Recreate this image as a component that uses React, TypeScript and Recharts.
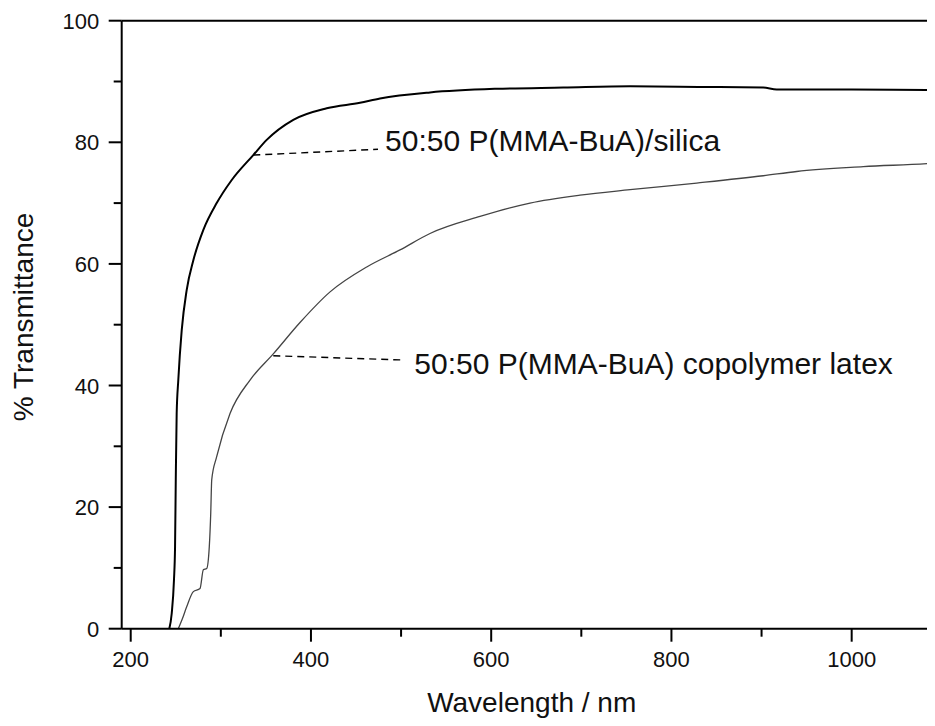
import { LineChart, Line, XAxis, YAxis, ReferenceLine, ReferenceDot } from 'recharts';

// transmittance spectra
const silicaWl = [242.8, 245.5, 248, 249.2, 250, 251, 252.8, 256.6, 262.1, 269.5, 280.6, 295.4, 312.1, 336, 350.9, 380.4, 417.5, 454.4, 476.6, 532.1, 606.1, 680, 754.1, 830, 901.9, 916.8, 1000, 1092.4, 1100];
const silicaT = [0, 2.5, 8, 13.5, 24.5, 35.4, 40.9, 49.1, 55.7, 60.6, 65.6, 70.0, 73.8, 77.9, 80.4, 83.7, 85.6, 86.5, 87.2, 88.2, 88.8, 89.0, 89.2, 89.1, 89.0, 88.7, 88.7, 88.6, 88.6];

const latexWl = [252.8, 257, 262.1, 269.5, 276.9, 280.6, 284.3, 287.2, 288.8, 289.9, 295.4, 310.2, 332.4, 358.2, 388.1, 421.2, 461.9, 498.8, 532.1, 587.6, 643.1, 698.6, 754.1, 828, 901.9, 939, 1012.9, 1092.4, 1100];
const latexT = [0, 1.5, 3.6, 6.1, 6.6, 9.7, 9.9, 13.5, 19, 24.5, 28.3, 35.4, 40.9, 45.2, 50.4, 55.4, 59.5, 62.3, 65.0, 67.8, 70.0, 71.3, 72.2, 73.3, 74.5, 75.2, 76.0, 76.6, 76.7];

const xTicks = [200, 300, 400, 500, 600, 700, 800, 900, 1000, 1100];
const xMajor = [200, 400, 600, 800, 1000];
const yTicks = [0, 10, 20, 30, 40, 50, 60, 70, 80, 90, 100];
const yMajor = [0, 20, 40, 60, 80, 100];

// annotations: label text, leader line (curve -> text), text anchor (baseline start)
const noteText = ['50:50 P(MMA-BuA)/silica', '50:50 P(MMA-BuA) copolymer latex'];
const noteFrom = [{ x: 336, y: 77.9 }, { x: 358.2, y: 44.9 }];
const noteTo = [{ x: 474.4, y: 78.85 }, { x: 500.7, y: 44.2 }];
const noteAt = [{ x: 482.2, y: 78.6 }, { x: 514.7, y: 41.9 }];

const silicaData = silicaWl.map((wl, i) => ({ wl, t: silicaT[i] }));
const latexData = latexWl.map((wl, i) => ({ wl, t: latexT[i] }));

const FONT = '"Liberation Sans", Arial, sans-serif';
const TICK_MAJOR = 13;
const TICK_MINOR = 8;
const GAP = 9;

const XTick = (props: any) => {
  const { x, y, payload } = props;
  const axisY = y - TICK_MAJOR - GAP;
  const major = xMajor.includes(payload.value);
  return (
    <g>
      <line x1={x} x2={x} y1={axisY} y2={axisY + (major ? TICK_MAJOR : TICK_MINOR)} stroke="#000" strokeWidth={2} />
      {major && (
        <text x={x} y={axisY + 38} textAnchor="middle" fontSize={22} fontFamily={FONT} fill="#111">
          {payload.value}
        </text>
      )}
    </g>
  );
};

const YTick = (props: any) => {
  const { x, y, payload } = props;
  const axisX = x + TICK_MAJOR + GAP;
  const major = yMajor.includes(payload.value);
  return (
    <g>
      <line x1={axisX - (major ? TICK_MAJOR : TICK_MINOR)} x2={axisX} y1={y} y2={y} stroke="#000" strokeWidth={2} />
      {major && (
        <text x={axisX - 22.5} y={y + 8} textAnchor="end" fontSize={22} fontFamily={FONT} fill="#111">
          {payload.value}
        </text>
      )}
    </g>
  );
};

const NoteText = (text: string) => (props: any) => (
  <text x={props.cx} y={props.cy} fontSize={30} fontFamily={FONT} fill="#111">
    {text}
  </text>
);

const App = () => {
  return (
    <div style={{ margin: -8, width: 935, height: 726, overflow: 'hidden', background: '#fff' }}>
      <LineChart width={960} height={726} margin={{ top: 20.7, right: 18.2, bottom: 37.3, left: 41.7 }}>
        <XAxis
          type="number"
          dataKey="wl"
          domain={[190, 1100]}
          ticks={xTicks}
          interval={0}
          allowDataOverflow
          height={60}
          tickSize={TICK_MAJOR}
          tickMargin={GAP}
          tickLine={false}
          axisLine={{ stroke: '#000', strokeWidth: 2 }}
          tick={XTick}
          label={{
            content: () => (
              <text x={531.7} y={712} textAnchor="middle" fontSize={28} fontFamily={FONT} fill="#111">
                Wavelength / nm
              </text>
            ),
          }}
        />
        <YAxis
          type="number"
          domain={[0, 100]}
          ticks={yTicks}
          interval={0}
          allowDataOverflow
          width={80}
          tickSize={TICK_MAJOR}
          tickMargin={GAP}
          tickLine={false}
          axisLine={{ stroke: '#000', strokeWidth: 2 }}
          tick={YTick}
          label={{
            content: () => (
              <text
                x={33.3}
                y={317}
                textAnchor="middle"
                fontSize={28}
                fontFamily={FONT}
                fill="#111"
                transform="rotate(-90, 33.3, 317)"
              >
                % Transmittance
              </text>
            ),
          }}
        />
        <ReferenceLine y={100} stroke="#000" strokeWidth={2} />
        <ReferenceLine x={1100} stroke="#000" strokeWidth={2} />
        <Line data={latexData} dataKey="t" type="monotone" stroke="#444" strokeWidth={1.3} dot={false} isAnimationActive={false} />
        <Line data={silicaData} dataKey="t" type="monotone" stroke="#000" strokeWidth={2} dot={false} isAnimationActive={false} />
        {noteText.map((txt, i) => (
          <ReferenceLine
            key={'l' + i}
            segment={[noteFrom[i], noteTo[i]]}
            stroke="#000"
            strokeWidth={1.4}
            strokeDasharray="7 5"
          />
        ))}
        {noteText.map((txt, i) => (
          <ReferenceDot key={'t' + i} x={noteAt[i].x} y={noteAt[i].y} r={0} shape={NoteText(txt)} />
        ))}
      </LineChart>
    </div>
  );
};

export default App;
